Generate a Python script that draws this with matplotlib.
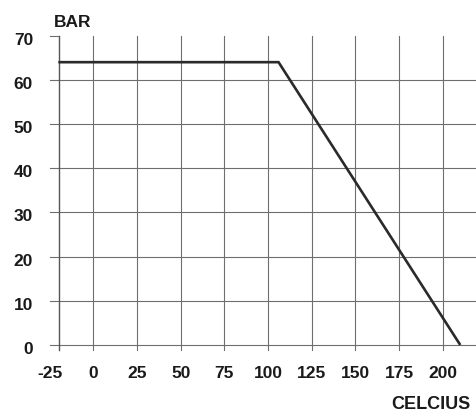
import matplotlib
matplotlib.use("Agg")
import matplotlib.pyplot as plt

# Data
temperature = [-20, 106, 210]
pressure = [64, 64, 0]
x_ticks = [-25, 0, 25, 50, 75, 100, 125, 150, 175, 200]
y_ticks = [0, 10, 20, 30, 40, 50, 60, 70]
x_label = "CELCIUS"
y_label = "BAR"

plt.rcParams['font.family'] = ['Liberation Sans', 'DejaVu Sans']

fig = plt.figure(figsize=(4.76, 4.13), dpi=100)
ax = fig.add_axes([0, 0, 1, 1])
ax.set_xlim(-53.4, 219.0)
ax.set_ylim(-15.39, 78.07)
ax.axis('off')

grid_c = '#6e6e6e'
grid_lw = 0.8
x_left = -24.6
x_spine = -19.6
y_bot = -1.2
x_right = 219.0

# horizontal gridlines
for y in y_ticks:
    if y < 70:
        ax.plot([x_left, x_right], [y, y], color=grid_c, lw=grid_lw, zorder=1)
    else:
        ax.plot([x_left, x_spine], [y, y], color=grid_c, lw=grid_lw, zorder=1)

# vertical gridlines
for x in x_ticks:
    if x >= 0:
        ax.plot([x, x], [y_bot, 70], color=grid_c, lw=grid_lw, zorder=1)
# left axis line
ax.plot([x_spine, x_spine], [y_bot, 70], color='#555555', lw=1.0, zorder=1)

# data line
ax.plot(temperature, pressure, color='#2a2a2a', lw=1.9, zorder=3,
        solid_capstyle='butt', solid_joinstyle='miter')

txt_c = '#1a1a1a'
for x in x_ticks:
    ax.text(x, -6.56, str(x), ha='center', va='center', fontsize=12.5,
            fontweight='bold', color=txt_c)
for y in y_ticks:
    ax.text(-34.5, y - 1.0, str(y), ha='right', va='center', fontsize=12.5,
            fontweight='bold', color=txt_c)

ax.text(-11.9, 72.9, y_label, ha='center', va='center', fontsize=12.5,
        fontweight='bold', color=txt_c)
ax.text(216.0, -13.5, x_label, ha='right', va='center', fontsize=13,
        fontweight='bold', color=txt_c)

fig.savefig('out.png', dpi=100)
